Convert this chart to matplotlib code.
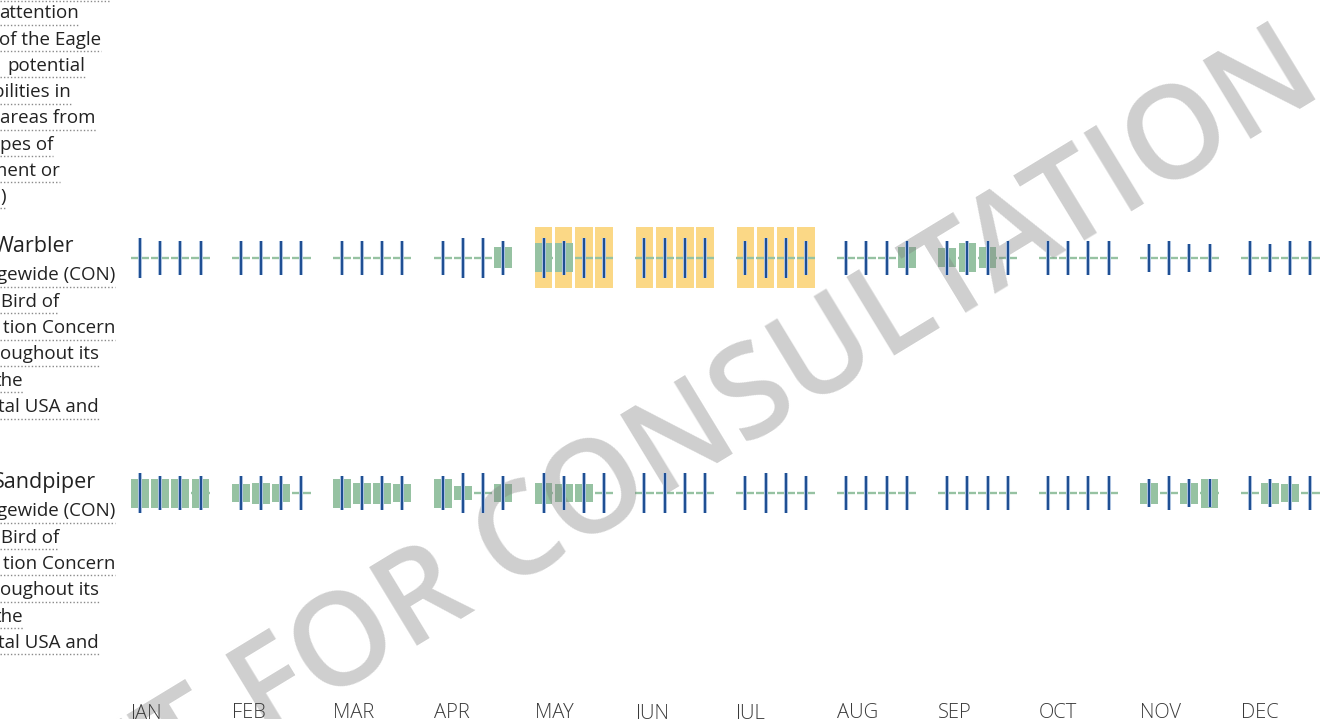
import matplotlib
matplotlib.use('Agg')
import numpy as np
import matplotlib.pyplot as plt

months = ['JAN', 'FEB', 'MAR', 'APR', 'MAY', 'JUN', 'JUL', 'AUG', 'SEP', 'OCT', 'NOV', 'DEC']

# probability of presence per week (4 weeks a month), as fraction of the full cell height
warbler_presence = [0, 0, 0, 0,  0, 0, 0, 0,  0, 0, 0, 0,  0, 0, 0, .35,
                    .48, .48, 0, 0,  0, 0, 0, 0,  0, 0, 0, 0,  0, 0, 0, .35,
                    .30, .48, .35, 0,  0, 0, 0, 0,  0, 0, 0, 0,  0, 0, 0, 0]
sandpiper_presence = [.48, .48, .48, .48,  .30, .35, .30, 0,  .48, .35, .35, .30,  .48, .23, 0, .30,
                      .35, .30, .30, 0,  0, 0, 0, 0,  0, 0, 0, 0,  0, 0, 0, 0,
                      0, 0, 0, 0,  0, 0, 0, 0,  .35, 0, .35, .48,  0, .35, .30, 0]
# breeding season weeks
warbler_breeding = [0] * 16 + [1] * 12 + [0] * 20
sandpiper_breeding = [0] * 48
# survey effort class per week (1 low .. 3 high)
survey_effort = [3, 2, 2, 2,  2, 2, 2, 2,  2, 2, 2, 2,  2, 3, 3, 2,
                 3, 2, 3, 3,  3, 3, 3, 3,  2, 3, 3, 2,  2, 2, 2, 2,
                 2, 2, 2, 2,  2, 2, 2, 2,  1, 2, 1, 1,  2, 1, 2, 2]

top_notes = ['attention', 'of the Eagle', 'potential', 'bilities in', 'areas from', 'pes of', 'ment or', ')']
warbler_name = 'Warbler'
sandpiper_name = 'Sandpiper'
species_notes = ['gewide (CON)', ' Bird of', 'tion Concern', 'oughout its', 'the', 'tal USA and']

W, H = 1324, 719
fig = plt.figure(figsize=(W / 100., H / 100.), dpi=100)
fig.patch.set_facecolor('white')

# chart axes: x in week units (month pitch = 5 weeks), y in pixels
pitch = 20.18
x0 = 140.
ax = fig.add_axes([0, 0, 1, 1])
ax.set_xlim(-x0 / pitch, (W - x0) / pitch)
ax.set_ylim(H, 0)
ax.axis('off')

lab = fig.add_axes([0, 0, 1, 1])
lab.set_xlim(0, W)
lab.set_ylim(H, 0)
lab.axis('off')
lab.patch.set_alpha(0)

xs = np.array([m * 5 + k for m in range(12) for k in range(4)], dtype=float)
row_y = [257.5, 493.3]
full_h = 61.
half_len = {1: 14., 2: 17., 3: 20.}

yellow = '#fbd886'
green = '#96c2a2'
blue = '#1f4f93'

for r, (pres, breed) in enumerate([(warbler_presence, warbler_breeding),
                                   (sandpiper_presence, sandpiper_breeding)]):
    yc = row_y[r]
    pres = np.array(pres)
    breed = np.array(breed, dtype=bool)
    ax.bar(xs[breed], full_h, width=0.86, bottom=yc - full_h / 2, color=yellow, zorder=1)
    ax.hlines(np.full(48, yc), xs - 0.45, xs + 0.45, color=green, lw=1.7, zorder=2)
    h = pres * full_h
    m = pres > 0
    ax.bar(xs[m], h[m], width=0.88, bottom=yc - h[m] / 2, color=green, zorder=3)
    hl = np.array([half_len[e] for e in survey_effort])
    ax.vlines(xs, yc - hl, yc + hl, color='#b3c7e3', lw=2.9, zorder=5)
    ax.vlines(xs, yc - hl, yc + hl, color=blue, lw=1.5, zorder=6)

for i, mname in enumerate(months):
    ax.text(i * 5 - 0.45, 718, mname, ha='left', va='baseline', fontsize=14.5,
            color='#3a3a3a', family=['Open Sans', 'DejaVu Sans'], fontweight='light', zorder=7)

# watermark over the bars, under the effort lines
ax.text(592, 500, 'DRAFT FOR CONSULTATION', transform=lab.transData, rotation=31.3,
        rotation_mode='anchor', ha='center', va='center', fontsize=92, fontweight='semibold',
        color='#808080', alpha=0.38, family=['Open Sans', 'DejaVu Sans'], zorder=4)

txt_kw = dict(ha='left', va='baseline', color='#222222', family=['Open Sans', 'DejaVu Sans'])
under = []
top_x = [-1, -1, 7, -7, 0, 0, -9.5, 0]
for i, s in enumerate(top_notes):
    t = lab.text(top_x[i], 18.5 + 26.2 * i, s, fontsize=13.5, **txt_kw)
    under.append(t)

note_x = [-3, -4.5, 3, 0, -5, -2]
for r, name in enumerate([warbler_name, sandpiper_name]):
    off = 235.8 * r
    nx = -6.5 if r == 0 else -7
    lab.text(nx, 252 + off, name, fontsize=15.5, **txt_kw)
    for i, s in enumerate(species_notes):
        t = lab.text(note_x[i], 280.5 + 26.3 * i + off, s, fontsize=13.5, **txt_kw)
        under.append(t)

fig.canvas.draw()
rend = fig.canvas.get_renderer()
inv = lab.transData.inverted()
for t in under:
    bb = t.get_window_extent(rend)
    x_end = inv.transform((bb.x1, 0))[0]
    yb = t.get_position()[1] + 6.5
    lab.plot([0, x_end], [yb, yb], color='#8a8a8a', lw=1, ls=(0, (1, 1.5)))
lab.plot([0, 110], [0.5, 0.5], color='#8a8a8a', lw=1, ls=(0, (1, 1.5)))

fig.savefig('out.png', dpi=100)
